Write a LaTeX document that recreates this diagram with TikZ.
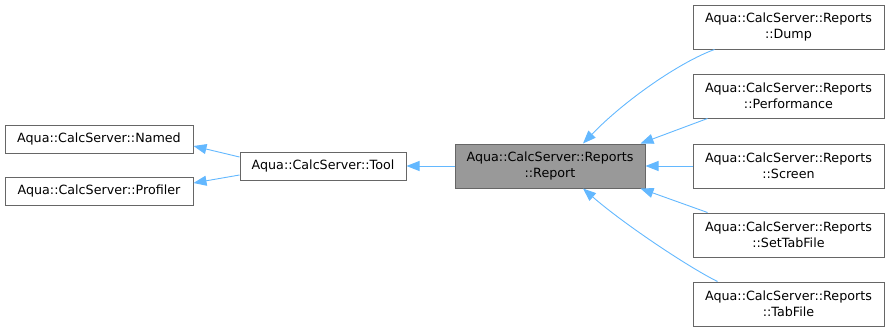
\documentclass[tikz,border=0pt]{standalone}
\usepackage{fontspec}
\setmainfont{DejaVu Sans}
\usepackage{xcolor}
\usetikzlibrary{arrows.meta,positioning,calc}
\definecolor{edgeblue}{RGB}{99,184,255}
\definecolor{boxline}{RGB}{102,102,102}
\definecolor{boxgray}{RGB}{153,153,153}

\begin{document}
\begin{tikzpicture}[x=1pt,y=-1pt,>={Triangle[length=13pt,width=10pt]},
  every node/.style={font=\fontsize{12.7}{15.5}\selectfont},
  cls/.style={draw=boxline,line width=1pt,fill=white,align=center,inner sep=2pt,minimum height=28pt},
  wide/.style={cls,minimum width=191pt,minimum height=44pt},
  inh/.style={->,draw=edgeblue,line width=0.9pt}]
\useasboundingbox (0,0) rectangle (889,333);
% base classes
\node[cls,minimum width=188pt] (named) at (99,139) {Aqua::CalcServer::Named};
\node[cls,minimum width=188pt] (profiler) at (99,191) {Aqua::CalcServer::Profiler};
\node[cls,minimum width=166pt] (tool) at (323,166) {Aqua::CalcServer::Tool};
\node[wide,fill=boxgray,minimum width=190pt] (report) at (550,166) {Aqua::CalcServer::Reports\\::Report};
% derived reports
\node[wide] (dump) at (788.5,27) {Aqua::CalcServer::Reports\\::Dump};
\node[wide] (perf) at (788.5,96) {Aqua::CalcServer::Reports\\::Performance};
\node[wide] (screen) at (788.5,166) {Aqua::CalcServer::Reports\\::Screen};
\node[wide] (settab) at (788.5,235) {Aqua::CalcServer::Reports\\::SetTabFile};
\node[wide] (tabfile) at (788.5,304) {Aqua::CalcServer::Reports\\::TabFile};
% inheritance
\draw[inh] ([yshift=9pt]tool.west) -- ([yshift=-7pt]named.east);
\draw[inh] ([yshift=-9pt]tool.west) -- ([yshift=8pt]profiler.east);
\draw[inh] (report.west) -- (tool.east);
\draw[inh] ([xshift=22pt]dump.south west) .. controls (680,62) and (625,100) .. ([xshift=33pt]report.north);
\draw[inh] ([xshift=15pt]perf.south west) -- ([xshift=-5pt]report.north east);
\draw[inh] (screen.west) -- (report.east);
\draw[inh] ([xshift=15pt]settab.north west) -- ([xshift=-5pt]report.south east);
\draw[inh] ([xshift=25pt]tabfile.north west) .. controls (690,268) and (625,225) .. ([xshift=33pt]report.south);
\end{tikzpicture}
\end{document}
